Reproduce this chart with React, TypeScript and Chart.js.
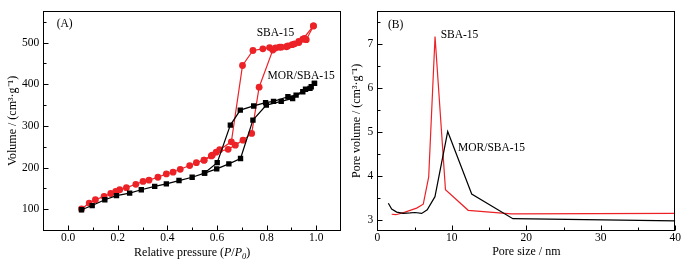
import React, { useEffect, useRef } from 'react';
import { Chart, registerables } from 'chart.js';

Chart.register(...registerables);

const FONT = "'Liberation Serif', 'Times New Roman', Times, serif";
const RED = '#ec2227';
const BLACK = '#000000';

// ---------- Panel A: N2 isotherms (P/P0, cm3/g) ----------
const sbaAdsP = [0.054, 0.085, 0.110, 0.145, 0.172, 0.192, 0.208, 0.235, 0.273, 0.302, 0.326, 0.362, 0.396, 0.423, 0.452, 0.490, 0.517, 0.548, 0.577, 0.597, 0.645, 0.674, 0.705, 0.740, 0.770, 0.825, 0.852, 0.880, 0.903, 0.930, 0.946, 0.989];
const sbaAdsV = [101, 115, 123, 131, 138, 143, 147, 152, 160, 167, 170, 177, 185, 189, 196, 205, 212, 218, 228, 237, 244, 254, 266, 282, 393, 482, 489, 490, 495, 500, 508, 540];
const sbaDesP = [0.989, 0.960, 0.953, 0.930, 0.913, 0.886, 0.859, 0.836, 0.812, 0.785, 0.745, 0.703, 0.658, 0.611, 0.581, 0.548];
const sbaDesV = [540, 507, 510, 503, 497, 492, 489, 487, 488, 485, 481, 445, 262, 243, 230, 218];

const morAdsP = [0.054, 0.097, 0.148, 0.195, 0.248, 0.295, 0.349, 0.396, 0.447, 0.500, 0.550, 0.599, 0.648, 0.695, 0.745, 0.799, 0.859, 0.905, 0.946, 0.975, 0.993];
const morAdsV = [99, 109, 123, 133, 139, 147, 155, 161, 169, 177, 187, 197, 209, 222, 314, 350, 359, 366, 382, 390, 402];
const morDesP = [0.993, 0.980, 0.957, 0.919, 0.886, 0.828, 0.796, 0.748, 0.694, 0.654, 0.601, 0.550];
const morDesV = [402, 394, 388, 374, 370, 359, 356, 348, 338, 302, 212, 187];

const aXTicks = [0, 0.2, 0.4, 0.6, 0.8, 1.0];
const aXMinor = [0.1, 0.3, 0.5, 0.7, 0.9];
const aYTicks = [100, 200, 300, 400, 500];
const aYMinor = [150, 250, 350, 450, 550];

// ---------- Panel B: pore size distribution ----------
const sbaPoreSize = [1.93, 2.5, 3.72, 5.28, 6.17, 6.9, 7.75, 9.15, 12.2, 18, 40];
const sbaPoreVol = [3.13, 3.12, 3.18, 3.27, 3.36, 3.98, 7.17, 3.69, 3.22, 3.14, 3.15];
const morPoreSize = [1.48, 1.93, 2.6, 3.5, 4.4, 5.06, 5.96, 6.7, 7.74, 9.45, 12.67, 18.2, 40];
const morPoreVol = [3.38, 3.25, 3.18, 3.15, 3.16, 3.17, 3.15, 3.23, 3.53, 5.01, 3.59, 3.03, 2.98];

const bXTicks = [0, 10, 20, 30, 40];
const bXMinor = [5, 15, 25, 35];
const bYTicks = [3, 4, 5, 6, 7];
const bYMinor = [3.5, 4.5, 5.5, 6.5, 7.5];

const zip = (xs: number[], ys: number[]) => xs.map((x, i) => ({ x, y: ys[i] }));

type Label = { text: string; x: number; y: number };
type TitlePart = { text: string; italic?: boolean; sub?: boolean };

function makeDecor(cfg: {
  xMajor: number[]; xMinor: number[]; yMajor: number[]; yMinor: number[];
  labels: Label[]; xTitle?: TitlePart[];
}) {
  return {
    id: 'decor',
    afterDraw(chart: any) {
      const { ctx, chartArea: a } = chart;
      const xs = chart.scales.x;
      const ys = chart.scales.y;
      ctx.save();
      ctx.strokeStyle = '#000';
      ctx.lineWidth = 1;
      const L = Math.round(a.left) + 0.5;
      const R = Math.round(a.right) - 0.5;
      const T = Math.round(a.top) + 0.5;
      const B = Math.round(a.bottom) - 0.5;
      ctx.strokeRect(L, T, R - L, B - T);
      ctx.beginPath();
      const xt = (vals: number[], len: number) => vals.forEach((v) => {
        const p = Math.round(xs.getPixelForValue(v)) + 0.5;
        ctx.moveTo(p, B); ctx.lineTo(p, B - len);
      });
      const yt = (vals: number[], len: number) => vals.forEach((v) => {
        const p = Math.round(ys.getPixelForValue(v)) + 0.5;
        ctx.moveTo(L, p); ctx.lineTo(L + len, p);
      });
      xt(cfg.xMajor, 5); xt(cfg.xMinor, 3);
      yt(cfg.yMajor, 5); yt(cfg.yMinor, 3);
      ctx.stroke();

      ctx.fillStyle = '#000';
      ctx.textAlign = 'left';
      ctx.textBaseline = 'middle';
      ctx.font = `11.5px ${FONT}`;
      cfg.labels.forEach((l) => {
        ctx.fillText(l.text, xs.getPixelForValue(l.x), ys.getPixelForValue(l.y));
      });

      if (cfg.xTitle) {
        const fontFor = (p: TitlePart) => `${p.italic ? 'italic ' : ''}${p.sub ? 8.5 : 12}px ${FONT}`;
        let total = 0;
        cfg.xTitle.forEach((p) => { ctx.font = fontFor(p); total += ctx.measureText(p.text).width; });
        let x = (a.left + a.right) / 2 - total / 2;
        const y = 252;
        ctx.textBaseline = 'alphabetic';
        cfg.xTitle.forEach((p) => {
          ctx.font = fontFor(p);
          ctx.fillText(p.text, x, y + 4 + (p.sub ? 3 : 0));
          x += ctx.measureText(p.text).width;
        });
      }
      ctx.restore();
    },
  };
}

function axis(o: {
  min: number; max: number; ticks: number[]; fmt: (v: number) => string;
  size: number; vertical: boolean; padding: number;
  title?: string; titlePad?: any;
}) {
  return {
    type: 'linear',
    min: o.min,
    max: o.max,
    grid: { display: false, drawTicks: false },
    border: { display: false },
    ticks: {
      font: { family: FONT, size: 11.5 },
      color: '#000',
      padding: o.padding,
      autoSkip: false,
      maxRotation: 0,
      callback: (v: any) => o.fmt(Number(v)),
    },
    title: o.title
      ? { display: true, text: o.title, color: '#000', font: { family: FONT, size: 12 }, padding: o.titlePad }
      : { display: false },
    afterBuildTicks: (scale: any) => { scale.ticks = o.ticks.map((v) => ({ value: v })); },
    afterFit: (scale: any) => {
      if (o.vertical) scale.width = o.size; else scale.height = o.size;
    },
  };
}

function lineSet(label: string, xs: number[], ys: number[], color: string, style: string | false, radius: number) {
  return {
    label,
    data: zip(xs, ys),
    showLine: true,
    borderColor: color,
    backgroundColor: color,
    borderWidth: 1.2,
    pointStyle: style || 'circle',
    pointRadius: style ? radius : 0,
    pointHoverRadius: style ? radius : 0,
    pointBackgroundColor: color,
    pointBorderColor: color,
    pointBorderWidth: 0,
    tension: 0,
  };
}

export default function App() {
  const refA = useRef<HTMLCanvasElement | null>(null);
  const refB = useRef<HTMLCanvasElement | null>(null);

  useEffect(() => {
    const common = {
      animation: false,
      responsive: false,
      maintainAspectRatio: false,
      events: [],
      plugins: { legend: { display: false }, tooltip: { enabled: false } },
    };

    const chartA = new Chart(refA.current as HTMLCanvasElement, {
      type: 'scatter',
      data: {
        datasets: [
          lineSet('MOR/SBA-15 des', morDesP, morDesV, BLACK, 'rect', 3.8),
          lineSet('MOR/SBA-15 ads', morAdsP, morAdsV, BLACK, 'rect', 3.8),
          lineSet('SBA-15 des', sbaDesP, sbaDesV, RED, 'circle', 3.4),
          lineSet('SBA-15 ads', sbaAdsP, sbaAdsV, RED, 'circle', 3.4),
        ] as any,
      },
      options: {
        ...common,
        layout: { padding: { left: 0, right: 4, top: 10.7, bottom: 0 } },
        scales: {
          x: axis({ min: -0.1, max: 1.1, ticks: aXTicks, fmt: (v) => v.toFixed(1), size: 33, vertical: false, padding: 0.5 }),
          y: axis({ min: 48, max: 576, ticks: aYTicks, fmt: (v) => String(Math.round(v)), size: 43.3, vertical: true, padding: 4,
            title: 'Volume / (cm³·g⁻¹)', titlePad: { top: 6, bottom: 0 } }),
        },
      } as any,
      plugins: [makeDecor({
        xMajor: aXTicks, xMinor: aXMinor, yMajor: aYTicks, yMinor: aYMinor,
        labels: [
          { text: '(A)', x: -0.046, y: 544 },
          { text: 'SBA-15', x: 0.76, y: 522 },
          { text: 'MOR/SBA-15', x: 0.804, y: 419 },
        ],
        xTitle: [
          { text: 'Relative pressure (' },
          { text: 'P', italic: true },
          { text: '/' },
          { text: 'P', italic: true },
          { text: '0', italic: true, sub: true },
          { text: ')' },
        ],
      }) as any],
    });

    const chartB = new Chart(refB.current as HTMLCanvasElement, {
      type: 'scatter',
      data: {
        datasets: [
          lineSet('MOR/SBA-15', morPoreSize, morPoreVol, BLACK, false, 0),
          lineSet('SBA-15', sbaPoreSize, sbaPoreVol, RED, false, 0),
        ] as any,
      },
      options: {
        ...common,
        layout: { padding: { left: 0, right: 15.7, top: 10.7, bottom: 0 } },
        scales: {
          x: axis({ min: 0, max: 40, ticks: bXTicks, fmt: (v) => String(Math.round(v)), size: 33, vertical: false, padding: 0.5,
            title: 'Pore size / nm', titlePad: { top: 0, bottom: 4.8 } }),
          y: axis({ min: 2.75, max: 7.75, ticks: bYTicks, fmt: (v) => String(Math.round(v)), size: 32.3, vertical: true, padding: 4,
            title: 'Pore volume / (cm³·g⁻¹)', titlePad: { top: 4.5, bottom: 0 } }),
        },
      } as any,
      plugins: [makeDecor({
        xMajor: bXTicks, xMinor: bXMinor, yMajor: bYTicks, yMinor: bYMinor,
        labels: [
          { text: '(B)', x: 1.44, y: 7.43 },
          { text: 'SBA-15', x: 8.5, y: 7.21 },
          { text: 'MOR/SBA-15', x: 10.83, y: 4.64 },
        ],
      }) as any],
    });

    return () => {
      chartA.destroy();
      chartB.destroy();
    };
  }, []);

  return (
    <div style={{ position: 'absolute', left: 0, top: 0, width: 691, height: 264, background: '#fff' }}>
      <canvas ref={refA} width={345} height={264} style={{ position: 'absolute', left: 0, top: 0, display: 'block' }} />
      <canvas ref={refB} width={346} height={264} style={{ position: 'absolute', left: 345, top: 0, display: 'block' }} />
    </div>
  );
}
